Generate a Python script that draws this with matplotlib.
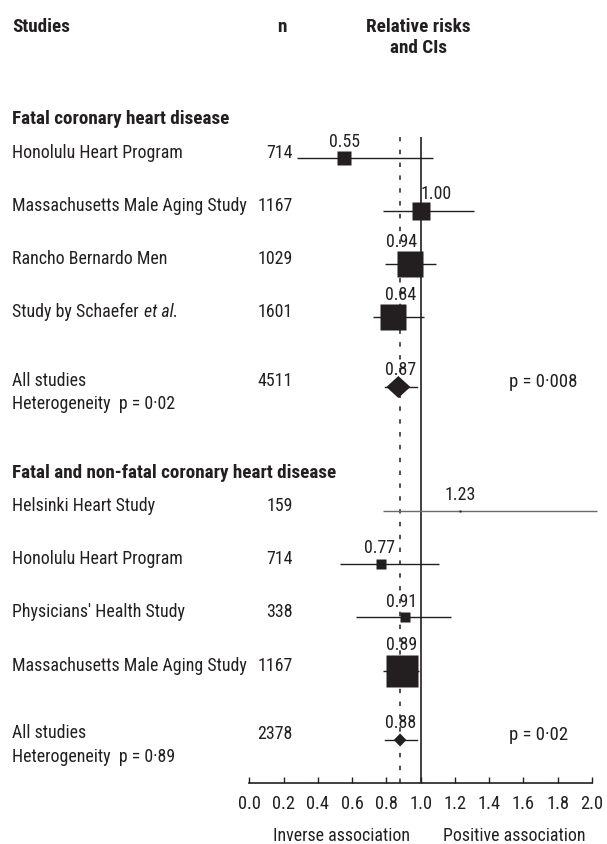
import matplotlib
matplotlib.use("Agg")
import matplotlib.pyplot as plt
from matplotlib import font_manager
from matplotlib.transforms import blended_transform_factory
from matplotlib.patches import Polygon
import numpy as np

# ---------------- data ----------------
section_titles = ["Fatal coronary heart disease",
                  "Fatal and non-fatal coronary heart disease"]

studies_fatal = ["Honolulu Heart Program", "Massachusetts Male Aging Study",
                 "Rancho Bernardo Men", "Study by Schaefer "]
n_fatal = [714, 1167, 1029, 1601]
rr_fatal = [0.55, 1.00, 0.94, 0.84]
lo_fatal = [0.28, 0.78, 0.79, 0.72]
hi_fatal = [1.07, 1.31, 1.09, 1.02]
weights_fatal = [1.7, 3.4, 6.7, 6.6]
pooled_fatal = dict(n=4511, rr=0.87, lo=0.79, hi=0.98, p_het="0·02", p="0·008")

studies_all = ["Helsinki Heart Study", "Honolulu Heart Program",
               "Physicians' Health Study", "Massachusetts Male Aging Study"]
n_all = [159, 714, 338, 1167]
rr_all = [1.23, 0.77, 0.91, 0.89]
lo_all = [0.78, 0.53, 0.62, 0.78]
hi_all = [2.03, 1.11, 1.18, 0.99]
weights_all = [0.04, 1.2, 1.2, 10.0]
pooled_all = dict(n=2378, rr=0.88, lo=0.79, hi=0.98, p_het="0·89", p="0·02")

overall_rr = 0.88
xticks = [0.0, 0.2, 0.4, 0.6, 0.8, 1.0, 1.2, 1.4, 1.6, 1.8, 2.0]

# ---------------- font choice ----------------
ttf = font_manager.fontManager.ttflist


def has_static(name):
    reg = [f for f in ttf if f.name == name and f.style == "normal" and "[" not in f.fname
           and f.weight in (400, "normal", "regular")]
    bold = [f for f in ttf if f.name == name and f.style == "normal" and "[" not in f.fname
            and f.weight in (700, "bold")]
    return bool(reg) and bool(bold)


FONT = "Liberation Sans"
for cand in ["Liberation Sans Narrow", "Roboto Condensed", "Pragati Narrow",
             "PT Sans Narrow", "Archivo Narrow", "IBM Plex Sans Condensed",
             "Fira Sans Condensed", "Barlow Semi Condensed", "Asap Condensed"]:
    if has_static(cand):
        FONT = cand
        break

plt.rcParams["font.family"] = [FONT, "DejaVu Sans"]
INK = "#231f20"

W, H = 607, 844
fig = plt.figure(figsize=(W / 100, H / 100), dpi=100)

# fit font size so that a row label has the reference width (171 px)
renderer = fig.canvas.get_renderer()
probe = fig.text(0, 0, "Honolulu Heart Program", fontsize=10)
wpx = probe.get_window_extent(renderer).width
probe.remove()
FS = 10 * 171.0 / wpx
FSB = FS * 1.07

x0_px, x2_px = 249.3, 592.0
top_px, bot_px = 137.0, 783.0
ax = fig.add_axes([x0_px / W, (H - bot_px) / H, (x2_px - x0_px) / W, (bot_px - top_px) / H])
ax.set_xlim(0, 2)
ax.set_ylim(bot_px, top_px)  # y in layout (pixel-row) units
for s in ("left", "right", "top"):
    ax.spines[s].set_visible(False)
ax.spines["bottom"].set_linewidth(1.2)
ax.spines["bottom"].set_color(INK)
ax.set_yticks([])
ax.set_xticks(xticks)
ax.set_xticklabels([f"{t:.1f}" for t in xticks], fontsize=FS * 1.03, color=INK)
ax.tick_params(axis="x", direction="in", length=4.0, width=1.0, color=INK, pad=8.5)

# reference lines
ax.axvline(1.0, color=INK, lw=1.2, zorder=1)
ax.axvline(overall_rr, color=INK, lw=1.1, dashes=(2.9, 5.5), zorder=1)

tr = blended_transform_factory(fig.transFigure, ax.transData)


def ftext(xpx, ypx, s, **kw):
    kw.setdefault("fontsize", FS)
    kw.setdefault("color", INK)
    return fig.text(xpx / W, 1 - ypx / H, s, **kw)


def ltext(xpx, y, s, **kw):
    kw.setdefault("fontsize", FS)
    kw.setdefault("color", INK)
    kw.setdefault("va", "baseline")
    return ax.text(xpx / W, y, s, transform=tr, clip_on=False, **kw)


# headers
ftext(12, 31.5, "Studies", fontweight="bold", fontsize=FSB, va="baseline")
ftext(282, 31.5, "n", fontweight="bold", fontsize=FSB, va="baseline", ha="center")
ftext(418, 31.5, "Relative risks", fontweight="bold", fontsize=FSB, va="baseline", ha="center")
ftext(418, 53, "and CIs", fontweight="bold", fontsize=FSB, va="baseline", ha="center")

# layout rows (pixel rows)
rows_fatal = [158, 211, 264, 317]
pool_fatal_y = 387
rows_all = [511, 564, 617, 671]
pool_all_y = 740
label_x_fatal = [0.553, 1.09, 0.886, 0.886]
label_dy_fatal = [11, 12, 17, 17]
label_x_all = [1.23, 0.757, 0.886, 0.89]
label_dy_all = [11, 11, 10, 21]


def draw_section(title, title_y, studies, ns, rr, lo, hi, w, rows, lx, ldy,
                 pooled, py, pool_lx, grey_first=False, italic_last=None):
    ltext(12, title_y, title, fontweight="bold", fontsize=FSB)
    for i, (name, n, r, l, h, wt, y) in enumerate(zip(studies, ns, rr, lo, hi, w, rows)):
        col = "#6a6a6a" if (grey_first and i == 0) else INK
        ax.plot([l, h], [y, y], color=col, lw=1.0, solid_capstyle="butt", clip_on=False, zorder=2)
        side_px = 10 * np.sqrt(wt)
        ax.plot([r], [y], marker="s", ms=side_px * 0.72, mec="none", mfc=INK, ls="none",
                clip_on=False, zorder=3)
        t = ltext(12, y, name)
        if italic_last is not None and i == len(studies) - 1:
            fig.canvas.draw()
            bb = t.get_window_extent(fig.canvas.get_renderer())
            ax.text((bb.x1 + 1) / W, y, italic_last, transform=tr, fontsize=FS, color=INK,
                    va="baseline", style="italic", clip_on=False)
        ltext(293, y, str(n), ha="right")
        ax.text(lx[i], y - ldy[i], f"{r:.2f}", ha="center", va="baseline",
                fontsize=FS, color=INK, zorder=4)
    ax.plot([pooled["lo"], pooled["hi"]], [py, py], color=INK, lw=1.0, zorder=2)
    ltext(12, py - 1.5, "All studies")
    ltext(12, py + 22, "Heterogeneity  p = " + pooled["p_het"])
    ltext(293, py - 1, str(pooled["n"]), ha="right")
    ltext(509, py, "p = " + pooled["p"], fontsize=FS * 1.05)
    ax.text(pool_lx, py - 12, f"{pooled['rr']:.2f}", ha="center", va="baseline",
            fontsize=FS, color=INK, zorder=4)


draw_section(section_titles[0], 124.5, studies_fatal, n_fatal, rr_fatal, lo_fatal, hi_fatal,
             weights_fatal, rows_fatal, label_x_fatal, label_dy_fatal,
             pooled_fatal, pool_fatal_y, 0.883, italic_last="et al.")
draw_section(section_titles[1], 478, studies_all, n_all, rr_all, lo_all, hi_all,
             weights_all, rows_all, label_x_all, label_dy_all,
             pooled_all, pool_all_y, 0.883, grey_first=True)

# diamonds for pooled estimates
for pooled, py, hw, hh in [(pooled_fatal, pool_fatal_y, 0.070, 11), (pooled_all, pool_all_y, 0.037, 6.5)]:
    r = pooled["rr"]
    ax.add_patch(Polygon([[r - hw, py], [r, py - hh], [r + hw, py], [r, py + hh]],
                         closed=True, facecolor=INK, edgecolor="none", zorder=3))

# bottom captions
ftext(341, 841, "Inverse association", ha="center", va="baseline")
ftext(514, 841, "Positive association", ha="center", va="baseline")

fig.savefig("out.png", dpi=100)
